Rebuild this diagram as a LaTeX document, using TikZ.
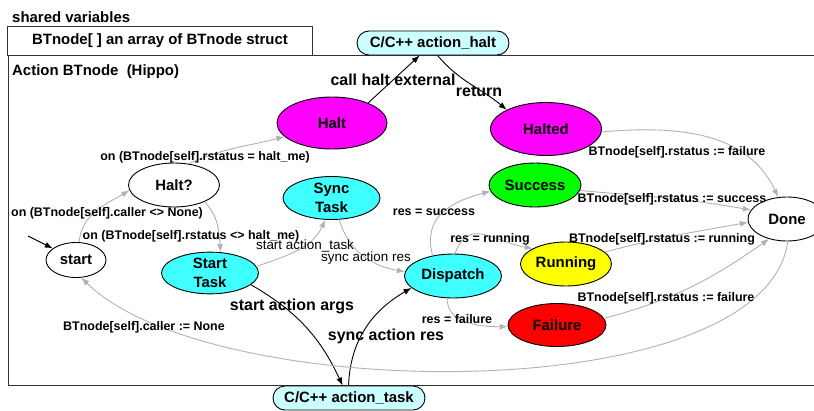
\documentclass[tikz,border=0pt]{standalone}
\usepackage{fontspec}
\setmainfont{Liberation Sans}
\usetikzlibrary{shapes.geometric,arrows.meta}
\definecolor{edgegray}{RGB}{178,178,178}
\definecolor{nodecyan}{RGB}{64,255,255}
\definecolor{lightcyan}{RGB}{204,255,255}
\definecolor{framegray}{RGB}{51,51,51}
\definecolor{nodemagenta}{RGB}{255,0,255}
\definecolor{nodegreen}{RGB}{0,255,0}
\definecolor{nodeyellow}{RGB}{255,255,0}
\definecolor{nodered}{RGB}{255,0,0}
\begin{document}
\begin{tikzpicture}[x=1bp,y=1bp,
  state/.style={ellipse, draw=black, line width=0.9bp, inner sep=0pt, align=center, font=\fontsize{15}{19}\selectfont\bfseries},
  ext/.style={rectangle, rounded corners=12bp, draw=black, line width=0.9bp, fill=lightcyan, minimum width=152bp, minimum height=24bp, inner sep=0pt, font=\fontsize{15}{18}\selectfont\bfseries},
  title/.style={inner sep=0pt, font=\fontsize{15}{18}\selectfont\bfseries},
  lbl/.style={inner sep=0pt, font=\fontsize{12.5}{14}\selectfont\bfseries},
  biglbl/.style={inner sep=0pt, font=\fontsize{16}{18}\selectfont\bfseries},
  reglbl/.style={inner sep=0pt, font=\fontsize{13.5}{15}\selectfont},
  gedge/.style={draw=edgegray, line width=0.9bp, -{Latex[length=8bp,width=6bp]}},
  bedge/.style={draw=black, line width=0.9bp, -{Latex[length=8bp,width=6bp]}},
]
\useasboundingbox (0,0) rectangle (814,410);
\clip (0,0) rectangle (814,410);
\fill[white] (0,0) rectangle (814,410);

% frames
\node[title, anchor=west] (shared) at (12,393) {shared variables};
\node[title, draw=framegray, line width=1bp, minimum width=304bp, minimum height=28bp] (array) at (160,369) {BTnode[ ] an array of BTnode struct};
\draw[framegray, line width=1bp] (814,355) -- (8,355) -- (8,25) -- (814,25);
\node[title, anchor=west] (actionlbl) at (12,338) {Action BTnode\ \ (Hippo)};

% nodes
\node[ext] (haltcall) at (433,367) {C/C++ action\_halt};
\node[ext] (actask) at (349,12) {C/C++ action\_task};
\node[state, fill=nodemagenta, minimum width=110bp, minimum height=52bp] (halt) at (332,287) {Halt};
\node[state, fill=nodemagenta, minimum width=111bp, minimum height=53bp] (halted) at (546,281) {Halted};
\node[state, fill=white, minimum width=91bp, minimum height=44bp] (haltq) at (174,225) {Halt?};
\node[state, fill=nodecyan, minimum width=97bp, minimum height=43bp] (sync) at (331.5,212) {Sync\\Task};
\node[state, fill=white, minimum width=60bp, minimum height=35bp] (start) at (76,150) {start};
\node[state, fill=nodecyan, minimum width=97bp, minimum height=41bp] (starttask) at (210,137) {Start\\Task};
\node[state, fill=nodecyan, minimum width=97bp, minimum height=44bp] (dispatch) at (453,134) {Dispatch};
\node[state, fill=nodegreen, minimum width=92bp, minimum height=44bp] (success) at (535,225) {Success};
\node[state, fill=nodeyellow, minimum width=91bp, minimum height=44bp] (running) at (566,146) {Running};
\node[state, fill=nodered, minimum width=98bp, minimum height=43bp] (failure) at (557,85) {Failure};
\node[state, fill=white, minimum width=78bp, minimum height=44bp] (done) at (787,191) {Done};
\coordinate (entry) at (28,174);

% edges
\draw[bedge] (entry) -- (start);
\draw[gedge] (start.80) to[out=85,in=210] (haltq.187);
\draw[gedge] (haltq.55) to[out=25,in=195] (halt.196);
\draw[gedge] (haltq.331) to[out=-45,in=95] (starttask.63);
\draw[bedge] (halt.29) -- (haltcall.223);
\draw[bedge] (haltcall.290) to[out=-50,in=140] (halted.154);
\draw[gedge] (halted.357) to[out=5,in=115] (done.112);
\draw[gedge] (starttask.8) to[out=20,in=245] (sync.254);
\draw[gedge] (sync.290) to[out=-75,in=170] (dispatch.175);
\draw[bedge] (starttask.344) to[out=-30,in=115] (actask.117);
\draw[bedge] (actask.92) to[out=88,in=210] (dispatch.196);
\draw[gedge] (dispatch.135) to[out=105,in=195,looseness=1.2] (success.188);
\draw[gedge] (dispatch.85) to[out=70,in=170,looseness=1.3] (running.155);
\draw[gedge] (dispatch.255) to[out=-90,in=180] (failure.182);
\draw[gedge] (success.353) to[out=-5,in=170] (done.166);
\draw[gedge] (running.17) to[out=15,in=190] (done.185);
\draw[gedge] (failure.8) to[out=15,in=215] (done.228);
\draw[gedge] (done.272) .. controls (765,0) and (210,5) .. (start.287);

% labels
\node[lbl] (l1) at (205,253) {on (BTnode[self].rstatus = halt\_me)};
\node[lbl] (l2) at (107,197) {on (BTnode[self].caller <> None)};
\node[lbl] (l3) at (191,174) {on (BTnode[self].rstatus <> halt\_me)};
\node[reglbl] (l4) at (305,164) {start action\_task};
\node[reglbl] (l5) at (366,152) {sync action res};
\node[biglbl] (l6) at (393,330) {call halt external};
\node[biglbl] (l7) at (479,319) {return};
\node[lbl] (l8) at (677,258) {BTnode[self].rstatus := failure};
\node[lbl] (l9) at (672,211) {BTnode[self].rstatus := success};
\node[lbl] (l10) at (662,171) {BTnode[self].rstatus := running};
\node[lbl] (l11) at (666,112) {BTnode[self].rstatus := failure};
\node[lbl] (l12) at (434,198) {res = success};
\node[lbl] (l13) at (490,171) {res = running};
\node[lbl] (l14) at (457,91) {res = failure};
\node[biglbl] (l15) at (292,104) {start action args};
\node[biglbl] (l16) at (386,74) {sync action res};
\node[lbl] (l17) at (144,83) {BTnode[self].caller := None};
\end{tikzpicture}
\end{document}
